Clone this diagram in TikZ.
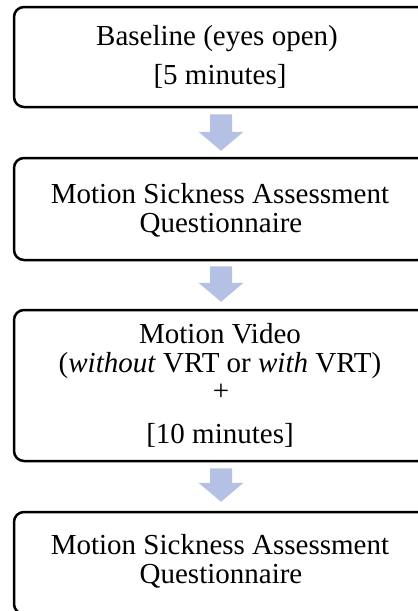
\documentclass[tikz,border=0pt]{standalone}
\usepackage{fontspec}
\setmainfont{Liberation Serif}
\usetikzlibrary{calc}
\definecolor{arrowblue}{RGB}{180,193,228}
\tikzset{
  box/.style={draw=black, line width=2.5pt, rounded corners=10pt, minimum width=414pt, inner sep=0pt},
  txt/.style={anchor=base, inner sep=0pt, font=\fontsize{29}{29}\selectfont},
  arrowfill/.style={fill=arrowblue}
}
\newcommand\blockarrow[2]{%
  \fill[arrowfill] ($(#1)+(-11,0)$) -- ($(#1)+(11,0)$) -- ($(#2)+(11,-19)$) -- ($(#2)+(22.5,-19)$) -- (#2) -- ($(#2)+(-22.5,-19)$) -- ($(#2)+(-11,-19)$) -- cycle;}
\begin{document}
\begin{tikzpicture}[x=1pt,y=-1pt]
\useasboundingbox (0,0) rectangle (418,611);
\clip (0,0) rectangle (418,611);
\fill[white] (0,0) rectangle (418,611);
% boxes
\node[box, minimum height=100pt] (b1) at (221,57) {};
\node[box, minimum height=102pt] (b2) at (221,209) {};
\node[box, minimum height=151pt] (b3) at (221,385.5) {};
\node[box, minimum height=102pt] (b4) at (221,563) {};
% texts
\node[txt] (t11) at (217,45) {Baseline (eyes open)};
\node[txt] (t12) at (220,84) {[5 minutes]};
\node[txt] (t21) at (220,203) {Motion Sickness Assessment};
\node[txt] (t22) at (221,232) {Questionnaire};
\node[txt] (t31) at (220,343) {Motion Video};
\node[txt] (t32) at (220,372) {(\textit{without} VRT or \textit{with} VRT)};
\node[txt] (t33) at (221,400) {+};
\node[txt] (t34) at (220,443) {[10 minutes]};
\node[txt] (t41) at (220,554) {Motion Sickness Assessment};
\node[txt] (t42) at (221,583) {Questionnaire};
% arrows
\path (b1.south) ++(0,6) coordinate (a1s);
\path (b2.north) ++(0,-6) coordinate (a1e);
\path (b2.south) ++(0,5) coordinate (a2s);
\path (b3.north) ++(0,-7) coordinate (a2e);
\path (b3.south) ++(0,6) coordinate (a3s);
\path (b4.north) ++(0,-9) coordinate (a3e);
\blockarrow{a1s}{a1e}
\blockarrow{a2s}{a2e}
\blockarrow{a3s}{a3e}
\end{tikzpicture}
\end{document}
